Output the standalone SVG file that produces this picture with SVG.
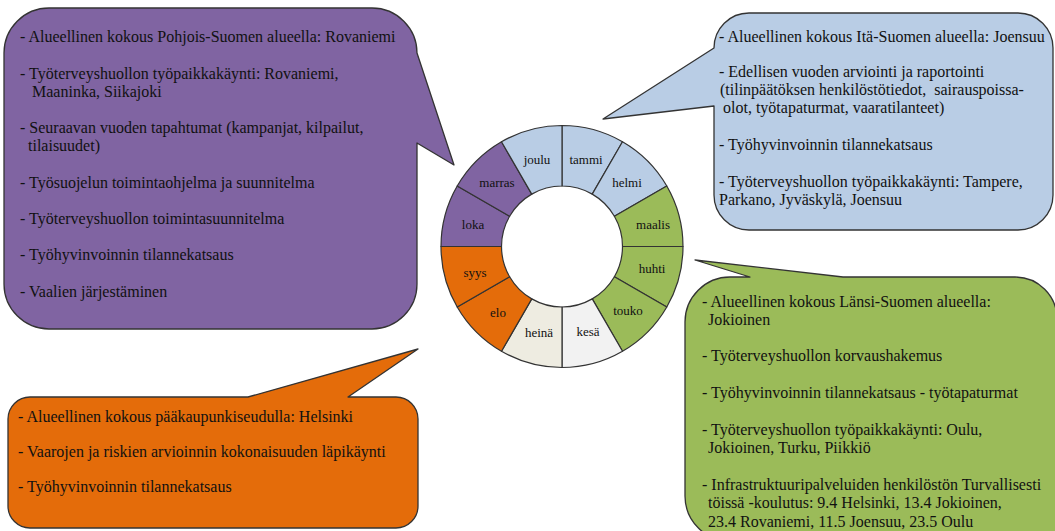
<svg xmlns="http://www.w3.org/2000/svg" width="1055" height="531" viewBox="0 0 1055 531">
<style>
.co{stroke:#333;stroke-width:1.3;stroke-linejoin:round}
.seg{stroke:#333;stroke-width:1.2;stroke-linejoin:round}
.t{font-family:"Liberation Serif","Times New Roman",serif;font-size:16px;fill:#111}
.m{font-family:"Liberation Serif","Times New Roman",serif;font-size:13px;fill:#111;text-anchor:middle}
.pu{fill:#8064A2}.bl{fill:#B9CDE5}.gr{fill:#9BBB59}.or{fill:#E46C0A}.ke{fill:#F2F2F2}.he{fill:#EEECE1}
</style>
<rect width="1055" height="531" fill="#fff"/>

<g id="callout-pohjois">
<path class="co pu" d="M49,8 H372 A45,45 0 0 1 417,53 L454,165 L417,143 V284 A45,45 0 0 1 372,329 H49 A45,45 0 0 1 4,284 V53 A45,45 0 0 1 49,8 Z"/>
<text class="t" x="20" y="42">- Alueellinen kokous Pohjois-Suomen alueella: Rovaniemi</text>
<text class="t" x="20" y="79">- Työterveyshuollon työpaikkakäynti: Rovaniemi,</text>
<text class="t" x="32" y="97">Maaninka, Siikajoki</text>
<text class="t" x="20" y="133">- Seuraavan vuoden tapahtumat (kampanjat, kilpailut,</text>
<text class="t" x="28" y="151">tilaisuudet)</text>
<text class="t" x="20" y="188">- Työsuojelun toimintaohjelma ja suunnitelma</text>
<text class="t" x="20" y="224">- Työterveyshuollon toimintasuunnitelma</text>
<text class="t" x="20" y="260">- Työhyvinvoinnin tilannekatsaus</text>
<text class="t" x="20" y="297">- Vaalien järjestäminen</text>
</g>

<g id="callout-ita">
<path class="co bl" d="M749,13 H1018 A35,35 0 0 1 1053,48 V195 A35,35 0 0 1 1018,230 H749 A35,35 0 0 1 714,195 V106 L603,119 L714,48 A35,35 0 0 1 749,13 Z"/>
<text class="t" x="719" y="42">- Alueellinen kokous Itä-Suomen alueella: Joensuu</text>
<text class="t" x="719" y="77">- Edellisen vuoden arviointi ja raportointi</text>
<text class="t" x="720" y="95" xml:space="preserve">(tilinpäätöksen henkilöstötiedot,  sairauspoissa-</text>
<text class="t" x="723" y="113">olot, työtapaturmat, vaaratilanteet)</text>
<text class="t" x="719" y="150">- Työhyvinvoinnin tilannekatsaus</text>
<text class="t" x="719" y="187">- Työterveyshuollon työpaikkakäynti: Tampere,</text>
<text class="t" x="719" y="205">Parkano, Jyväskylä, Joensuu</text>
</g>

<g id="callout-lansi">
<path class="co gr" d="M685,322 A45,45 0 0 1 730,277 H750 L695,260 L843,277 H1015 A42,42 0 0 1 1057,319 V541 H730 A45,45 0 0 1 685,496 Z"/>
<text class="t" x="702" y="307">- Alueellinen kokous Länsi-Suomen alueella:</text>
<text class="t" x="708" y="325">Jokioinen</text>
<text class="t" x="702" y="361">- Työterveyshuollon korvaushakemus</text>
<text class="t" x="702" y="398">- Työhyvinvoinnin tilannekatsaus - työtapaturmat</text>
<text class="t" x="702" y="435">- Työterveyshuollon työpaikkakäynti: Oulu,</text>
<text class="t" x="708" y="453">Jokioinen, Turku, Piikkiö</text>
<text class="t" x="702" y="490">- Infrastruktuuripalveluiden henkilöstön Turvallisesti</text>
<text class="t" x="708" y="508">töissä -koulutus: 9.4 Helsinki, 13.4 Jokioinen,</text>
<text class="t" x="708" y="527">23.4 Rovaniemi, 11.5 Joensuu, 23.5 Oulu</text>
</g>

<g id="callout-paakaupunki">
<path class="co or" d="M30,397 H248 L418,349 L348,397 H396 A22,22 0 0 1 418,419 V506 A22,22 0 0 1 396,528 H30 A22,22 0 0 1 8,506 V419 A22,22 0 0 1 30,397 Z"/>
<text class="t" x="18" y="422">- Alueellinen kokous pääkaupunkiseudulla: Helsinki</text>
<text class="t" x="18" y="457">- Vaarojen ja riskien arvioinnin kokonaisuuden läpikäynti</text>
<text class="t" x="18" y="492">- Työhyvinvoinnin tilannekatsaus</text>
</g>

<g id="wheel">
<g id="m-tammi"><path class="seg bl" d="M562,125.5 A121,121 0 0 1 622.5,141.71 L592.25,194.11 A60.5,60.5 0 0 0 562,186 Z"/><text class="m" x="586" y="164">tammi</text></g>
<g id="m-helmi"><path class="seg bl" d="M622.5,141.71 A121,121 0 0 1 666.79,186 L614.39,216.25 A60.5,60.5 0 0 0 592.25,194.11 Z"/><text class="m" x="627" y="187">helmi</text></g>
<g id="m-maalis"><path class="seg gr" d="M666.79,186 A121,121 0 0 1 683,246.5 L622.5,246.5 A60.5,60.5 0 0 0 614.39,216.25 Z"/><text class="m" x="653" y="229">maalis</text></g>
<g id="m-huhti"><path class="seg gr" d="M683,246.5 A121,121 0 0 1 666.79,307 L614.39,276.75 A60.5,60.5 0 0 0 622.5,246.5 Z"/><text class="m" x="652" y="273">huhti</text></g>
<g id="m-touko"><path class="seg gr" d="M666.79,307 A121,121 0 0 1 622.5,351.29 L592.25,298.89 A60.5,60.5 0 0 0 614.39,276.75 Z"/><text class="m" x="628" y="315">touko</text></g>
<g id="m-kesa"><path class="seg ke" d="M622.5,351.29 A121,121 0 0 1 562,367.5 L562,307 A60.5,60.5 0 0 0 592.25,298.89 Z"/><text class="m" x="588" y="336">kesä</text></g>
<g id="m-heina"><path class="seg he" d="M562,367.5 A121,121 0 0 1 501.5,351.29 L531.75,298.89 A60.5,60.5 0 0 0 562,307 Z"/><text class="m" x="539" y="337">heinä</text></g>
<g id="m-elo"><path class="seg or" d="M501.5,351.29 A121,121 0 0 1 457.21,307 L509.61,276.75 A60.5,60.5 0 0 0 531.75,298.89 Z"/><text class="m" x="498" y="317">elo</text></g>
<g id="m-syys"><path class="seg or" d="M457.21,307 A121,121 0 0 1 441,246.5 L501.5,246.5 A60.5,60.5 0 0 0 509.61,276.75 Z"/><text class="m" x="475" y="277">syys</text></g>
<g id="m-loka"><path class="seg pu" d="M441,246.5 A121,121 0 0 1 457.21,186 L509.61,216.25 A60.5,60.5 0 0 0 501.5,246.5 Z"/><text class="m" x="473" y="229">loka</text></g>
<g id="m-marras"><path class="seg pu" d="M457.21,186 A121,121 0 0 1 501.5,141.71 L531.75,194.11 A60.5,60.5 0 0 0 509.61,216.25 Z"/><text class="m" x="497" y="187">marras</text></g>
<g id="m-joulu"><path class="seg bl" d="M501.5,141.71 A121,121 0 0 1 562,125.5 L562,186 A60.5,60.5 0 0 0 531.75,194.11 Z"/><text class="m" x="537" y="164">joulu</text></g>
</g>
</svg>
